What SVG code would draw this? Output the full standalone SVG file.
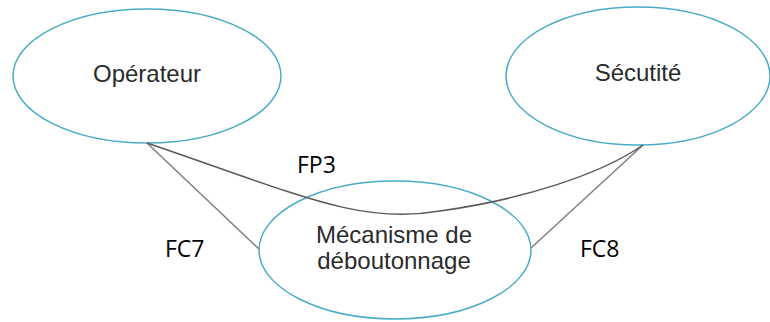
<svg xmlns="http://www.w3.org/2000/svg" width="770" height="322" viewBox="0 0 770 322">
  <style>
    .node ellipse { fill: none; stroke: #4bacc6; stroke-width: 1.5; }
    .node text { font-family: "Liberation Sans", Arial, sans-serif; font-size: 24px; fill: #2b2b2b; text-anchor: middle; }
    .conn { fill: none; stroke: #7f7f7f; stroke-width: 1.5; }
    .conn.main { stroke: #595959; }
    .lbl { font-family: "Open Sans", "Liberation Sans", sans-serif; font-size: 23px; fill: #000000; }
  </style>

  <g id="node-operateur" class="node">
    <ellipse cx="147" cy="76" rx="134" ry="67"/>
    <text x="147" y="82">Opérateur</text>
  </g>

  <g id="node-securite" class="node">
    <ellipse cx="638" cy="76" rx="132" ry="69"/>
    <text x="638" y="81">Sécutité</text>
  </g>

  <g id="node-mecanisme" class="node">
    <ellipse cx="395" cy="250" rx="136" ry="69"/>
    <text x="394" y="243">Mécanisme de</text>
    <text x="394" y="269">déboutonnage</text>
  </g>

  <g id="connectors">
    <path class="conn" d="M147,143 L259,249"/>
    <path class="conn" d="M643,145 L531,248"/>
    <path class="conn main" d="M147,143 C300,195 360,225 440,211 C520,200 600,175 643,145"/>
  </g>

  <g id="labels">
    <text class="lbl" x="297" y="173">FP3</text>
    <text class="lbl" x="165" y="257">FC7</text>
    <text class="lbl" x="580" y="257">FC8</text>
  </g>
</svg>
